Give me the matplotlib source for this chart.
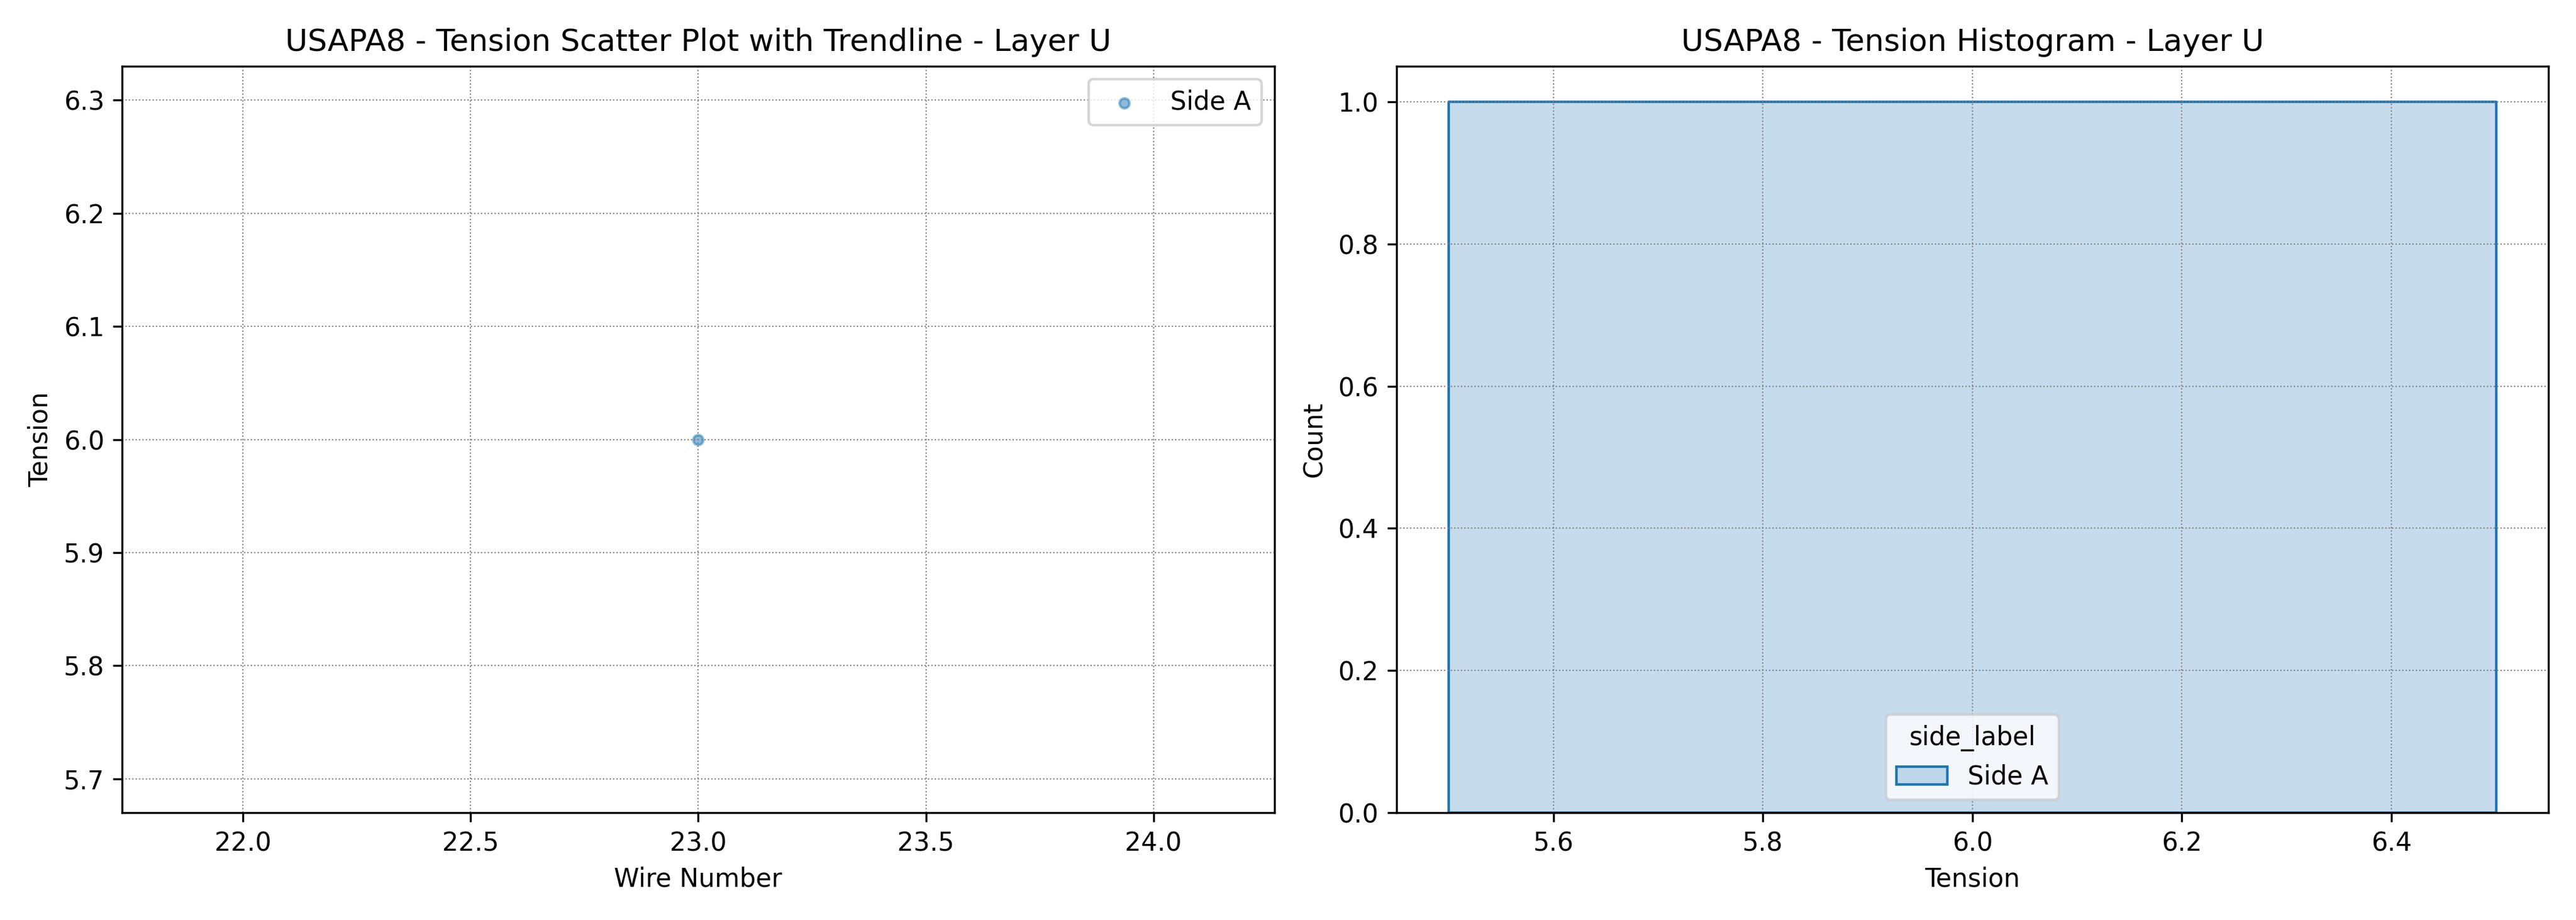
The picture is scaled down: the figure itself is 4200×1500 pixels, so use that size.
import numpy as np
import pandas as pd
import matplotlib
matplotlib.use('Agg')
import matplotlib.pyplot as plt
import seaborn as sns

# data
wire_numbers = [23]
tensions = [6.0]
side_labels = ['Side A']

df = pd.DataFrame({'wire_number': wire_numbers, 'tension': tensions, 'side_label': side_labels})

fig, (ax1, ax2) = plt.subplots(1, 2, figsize=(14, 5), dpi=300)

# scatter
for side in df['side_label'].unique():
    sub = df[df['side_label'] == side]
    ax1.scatter(sub['wire_number'], sub['tension'], s=15, alpha=0.5, label=side)
ax1.set_title('USAPA8 - Tension Scatter Plot with Trendline - Layer U')
ax1.set_xlabel('Wire Number')
ax1.set_ylabel('Tension')
ax1.legend(loc='upper right')
ax1.grid(True, linestyle=':', color='gray', linewidth=0.5)

# histogram
sns.histplot(data=df, x='tension', hue='side_label', element='step', ax=ax2)
ax2.set_title('USAPA8 - Tension Histogram - Layer U')
ax2.set_xlabel('Tension')
ax2.set_ylabel('Count')
ax2.grid(True, linestyle=':', color='gray', linewidth=0.5)
sns.move_legend(ax2, 'lower center')

plt.tight_layout()
plt.savefig('out.png')
